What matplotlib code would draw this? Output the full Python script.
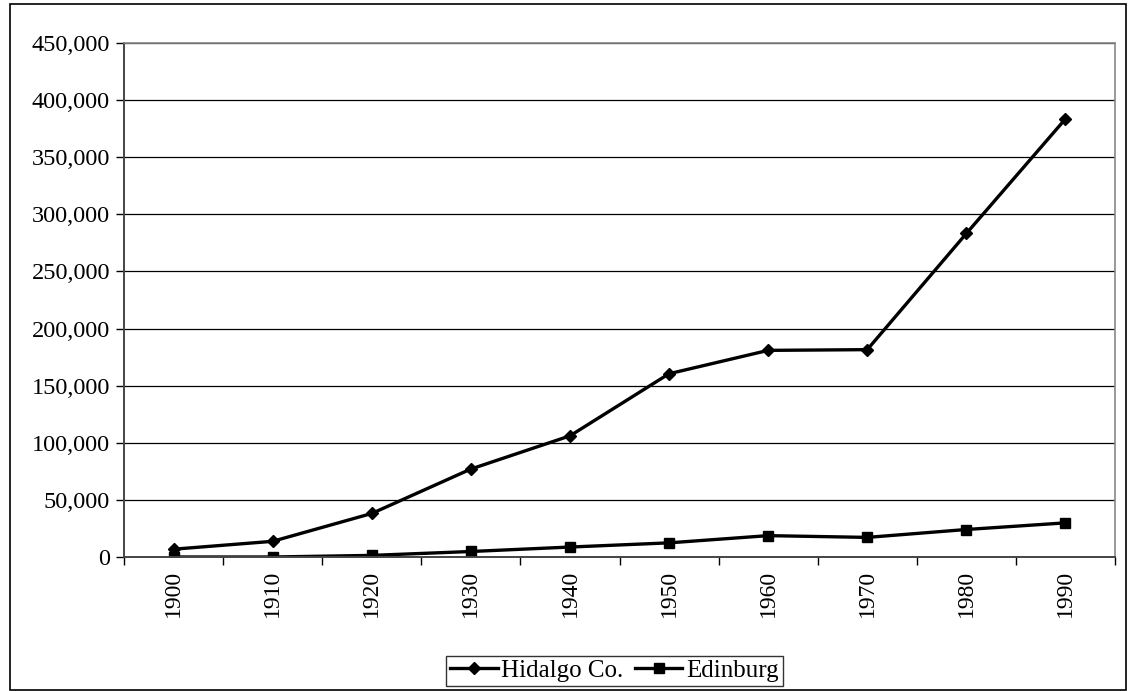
import matplotlib.pyplot as plt
import matplotlib.ticker as mticker
from matplotlib.patches import Rectangle

years = ["1900", "1910", "1920", "1930", "1940", "1950", "1960", "1970", "1980", "1990"]
hidalgo = [6837, 13728, 38110, 77004, 106059, 160446, 180904, 181535, 283229, 383545]
edinburg = [0, 0, 1406, 4821, 8718, 12383, 18706, 17163, 24075, 29885]

plt.rcParams["font.family"] = ["Liberation Serif", "DejaVu Serif"]

fig = plt.figure(figsize=(11.3, 6.91), dpi=100)
ax = fig.add_axes([124 / 1130, 1 - 557 / 691, (1115 - 124) / 1130, (557 - 43) / 691])

x = list(range(len(years)))
ax.plot(x, hidalgo, color="black", lw=2.4, marker="D", markersize=6, label="Hidalgo Co.")
ax.plot(x, edinburg, color="black", lw=2.4, marker="s", markersize=7.5, label="Edinburg")

ax.set_xlim(-0.5, len(years) - 0.5)
ax.set_ylim(0, 450000)
ax.set_yticks(range(0, 450001, 50000))
ax.yaxis.set_major_formatter(mticker.FuncFormatter(lambda v, p: f"{int(v):,}"))
ax.yaxis.grid(True, color="black", lw=0.9)
ax.set_axisbelow(True)

ax.set_xticks(x)
ax.set_xticklabels(years, rotation=90)
ax.set_xticks([i - 0.5 for i in range(len(years) + 1)], minor=True)
ax.tick_params(axis="x", which="major", length=0, labelsize=17, pad=9)
ax.tick_params(axis="x", which="minor", length=6, width=1, direction="out")
ax.tick_params(axis="y", length=6, width=1, direction="out", labelsize=17.5, pad=4)

for side in ["top", "right"]:
    ax.spines[side].set_color("#888888")
    ax.spines[side].set_linewidth(1.2)
ax.spines["left"].set_color("#444444")
ax.spines["left"].set_linewidth(1.4)
ax.spines["bottom"].set_color("#444444")
ax.spines["bottom"].set_linewidth(1.4)

leg = ax.legend(loc="upper center", bbox_to_anchor=(0.495, -0.168), ncol=2, frameon=True,
                fancybox=False, edgecolor="black", fontsize=18, handlelength=1.9,
                handletextpad=0.15, columnspacing=0.45, borderpad=0.15)
leg.get_frame().set_linewidth(1.0)

fig.patches.append(Rectangle((10 / 1130, 1 / 691), 1116 / 1130, 686 / 691,
                             transform=fig.transFigure, fill=False, edgecolor="black", lw=1.2))

fig.savefig("out.png", dpi=100)
